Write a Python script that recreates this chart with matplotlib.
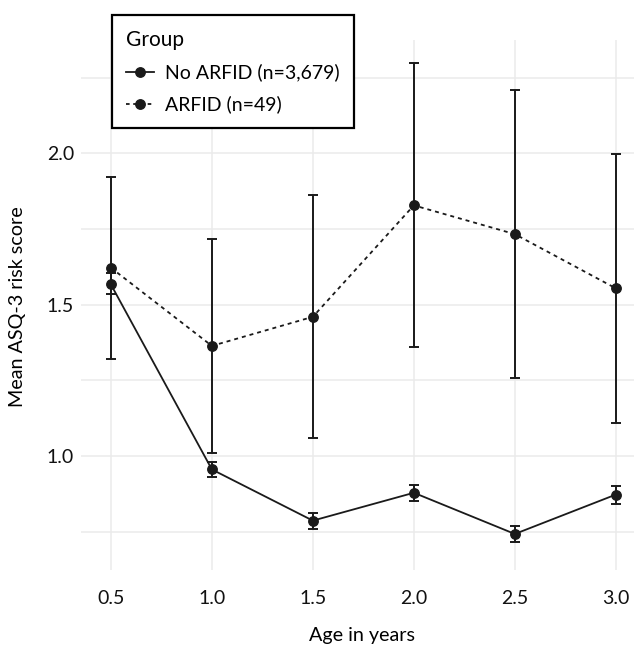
import matplotlib
matplotlib.use("Agg")
import matplotlib.pyplot as plt
from matplotlib.lines import Line2D

plt.rcParams['font.family'] = ['Lato', 'DejaVu Sans']

# data
ages = [0.5, 1.0, 1.5, 2.0, 2.5, 3.0]

no_arfid_mean = [1.567, 0.956, 0.787, 0.879, 0.743, 0.873]
no_arfid_low = [1.534, 0.930, 0.760, 0.852, 0.715, 0.843]
no_arfid_high = [1.604, 0.982, 0.813, 0.905, 0.770, 0.901]

arfid_mean = [1.622, 1.364, 1.460, 1.828, 1.733, 1.554]
arfid_low = [1.321, 1.011, 1.059, 1.360, 1.259, 1.110]
arfid_high = [1.921, 1.718, 1.862, 2.298, 2.208, 1.998]

labels = ['No ARFID (n=3,679)', 'ARFID (n=49)']
x_ticks = [0.5, 1.0, 1.5, 2.0, 2.5, 3.0]
y_ticks = [1.0, 1.5, 2.0]
y_minor = [0.75, 1.25, 1.75, 2.25]

ink = '#1a1a1a'
grid_col = '#ebebeb'
W, H = 634, 646

fig = plt.figure(figsize=(W / 100, H / 100), dpi=100)
ax = fig.add_axes([81 / W, 1 - 570 / H, 1 - 81 / W, (570 - 40) / H])

# grid like ggplot theme_minimal
for v in y_ticks + y_minor:
    ax.axhline(v, color=grid_col, lw=1.1, zorder=0)
for v in x_ticks:
    ax.axvline(v, color=grid_col, lw=1.1, zorder=0)

def draw_group(mean, low, high, ls):
    yerr = [[m - l for m, l in zip(mean, low)], [h - m for m, h in zip(mean, high)]]
    ax.errorbar(ages, mean, yerr=yerr, fmt='none', ecolor=ink, elinewidth=1.4,
                capsize=3.3, capthick=1.4, zorder=2)
    ax.plot(ages, mean, color=ink, lw=1.3, linestyle=ls, marker='o',
            markersize=6.8, markerfacecolor=ink, markeredgecolor=ink, zorder=3)

draw_group(no_arfid_mean, no_arfid_low, no_arfid_high, '-')
draw_group(arfid_mean, arfid_low, arfid_high, (0, (2.2, 2.2)))

ax.set_xlim(0.352, 3.09)
ax.set_ylim(0.624, 2.374)
ax.set_xticks(x_ticks)
ax.set_xticklabels([f'{v:.1f}' for v in x_ticks])
ax.set_yticks(y_ticks)
ax.set_yticklabels([f'{v:.1f}' for v in y_ticks])
ax.tick_params(length=0, labelsize=14, colors='#111111')
ax.tick_params(axis='x', pad=14.5)
ax.tick_params(axis='y', pad=5)
for s in ax.spines.values():
    s.set_visible(False)

fig.text(362 / W, 1 - 636 / H, 'Age in years', fontsize=14.2, ha='center', va='center')
fig.text(18 / W, 1 - 307 / H, 'Mean ASQ-3 risk score', rotation=90, fontsize=14.2,
         ha='center', va='center')

handles = [
    Line2D([], [], color=ink, lw=1.3, ls='-', marker='o', markersize=6.8),
    Line2D([], [], color=ink, lw=1.3, ls=(0, (2, 2)), marker='o', markersize=6.8),
]
leg = fig.legend(handles, labels, title='Group', loc='upper left',
                 bbox_to_anchor=(111.7 / W, 1 - 15 / H), fontsize=14, title_fontsize=15,
                 frameon=True, fancybox=False, handlelength=1.4, handletextpad=0.6,
                 borderpad=0.75, labelspacing=0.72, borderaxespad=0, alignment='left')
leg.get_frame().set_edgecolor('black')
leg.get_frame().set_linewidth(1.6)
leg.get_frame().set_facecolor('white')
leg.get_frame().set_alpha(1)

fig.savefig('out.png', dpi=100)
